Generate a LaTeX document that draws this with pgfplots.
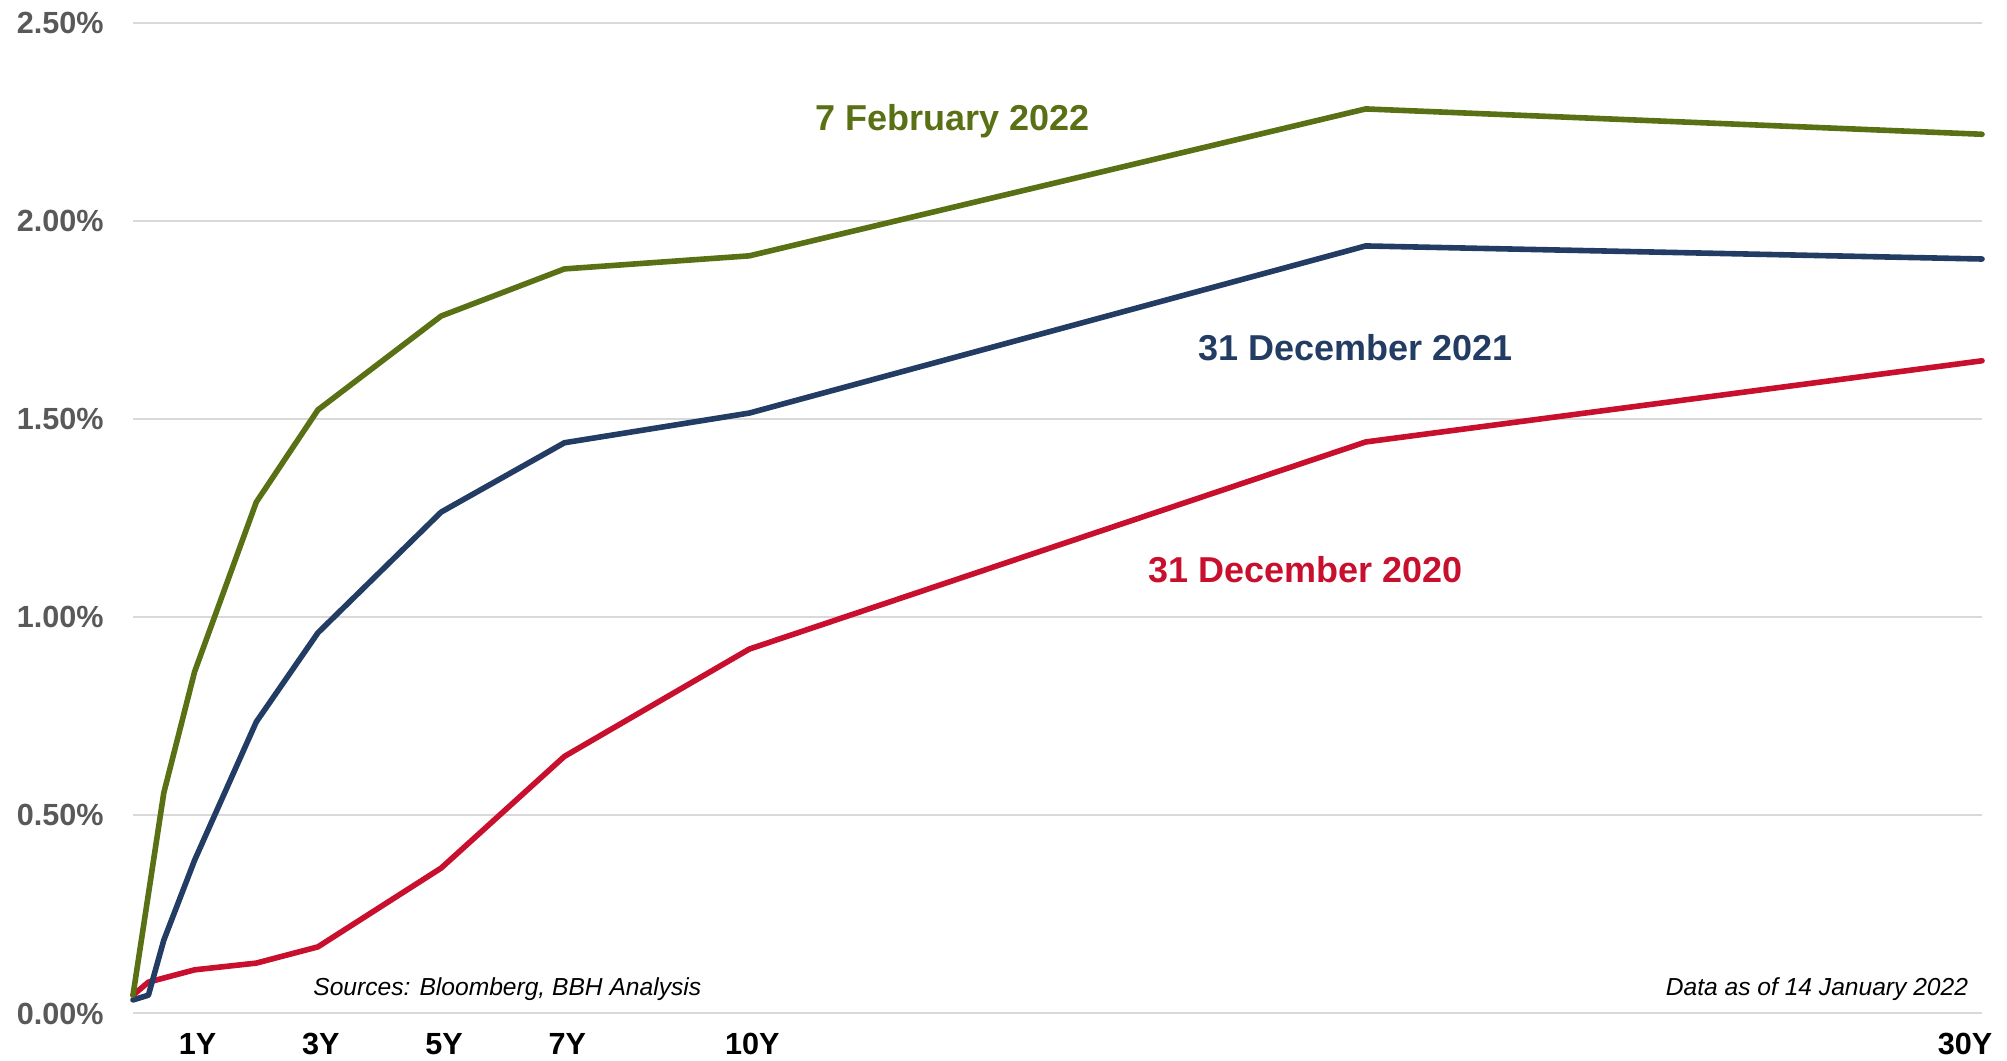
\documentclass[border=0pt]{standalone}
\usepackage{fontspec}
\setmainfont{Liberation Sans}
\usepackage{pgfplots}
\pgfplotsset{compat=1.18}
\definecolor{cgreen}{HTML}{5A7014}
\definecolor{cnavy}{HTML}{233C64}
\definecolor{cred}{HTML}{C8102E}
\definecolor{cgray}{HTML}{595959}
\definecolor{cgrid}{HTML}{D9D9D9}
\begin{document}
\begin{tikzpicture}
\useasboundingbox (-66.5pt,-23.5pt) rectangle (937pt,506.5pt);
\begin{axis}[
  scale only axis, width=924.5pt, height=495pt,
  xmin=0, xmax=30, ymin=0, ymax=2.5,
  axis line style={draw=none},
  major tick length=0pt,
  ytick={0,0.5,1,1.5,2,2.5},
  yticklabels={0.00\%,0.50\%,1.00\%,1.50\%,2.00\%,2.50\%},
  xtick={1,3,5,7,10,30},
  xticklabels={1Y,3Y,5Y,7Y,10Y,\hspace*{-20pt}30Y},
  ymajorgrids, grid style={cgrid, line width=0.75pt},
  yticklabel style={font=\fontsize{15.3}{18}\selectfont\bfseries, text=cgray, anchor=base east, inner sep=0pt, xshift=-14.5pt, yshift=-5.5pt},
  xticklabel style={font=\fontsize{15.3}{18}\selectfont\bfseries, text=black, anchor=base, inner sep=0pt, yshift=-20.5pt, xshift=1.5pt},
  clip=false,
  every axis plot/.append style={line width=2.8pt, line join=round, line cap=round, mark=none},
]
\addplot[cred] coordinates {(0,0.045) (0.25,0.078) (1,0.109) (2,0.126) (3,0.167) (5,0.366) (7,0.648) (10,0.919) (20,1.442) (30,1.647)};
\addplot[cnavy] coordinates {(0,0.033) (0.25,0.045) (0.5,0.184) (1,0.386) (2,0.735) (3,0.96) (5,1.265) (7,1.44) (10,1.515) (20,1.937) (30,1.904)};
\addplot[cgreen] coordinates {(0,0.045) (0.5,0.556) (1,0.862) (2,1.29) (3,1.523) (5,1.76) (7,1.879) (10,1.912) (20,2.283) (30,2.219)};
\node[font=\fontsize{18}{21}\selectfont\bfseries, text=cgreen, anchor=base, inner sep=0pt, yshift=-6.4pt] at (axis cs:13.29,2.26) {7 February 2022};
\node[font=\fontsize{18}{21}\selectfont\bfseries, text=cnavy, anchor=base, inner sep=0pt, yshift=-6.4pt] at (axis cs:19.83,1.679) {31 December 2021};
\node[font=\fontsize{18}{21}\selectfont\bfseries, text=cred, anchor=base, inner sep=0pt, yshift=-6.4pt] at (axis cs:19.03,1.119) {31 December 2020};
\node[font=\fontsize{12.3}{14}\selectfont\itshape, anchor=base west, inner sep=0pt] at (axis cs:2.92,0.043) {Sources: Bloomberg, BBH Analysis};
\node[font=\fontsize{12.3}{14}\selectfont\itshape, anchor=base east, inner sep=0pt] at (axis cs:29.78,0.043) {Data as of 14 January 2022};
\end{axis}
\end{tikzpicture}
\end{document}
